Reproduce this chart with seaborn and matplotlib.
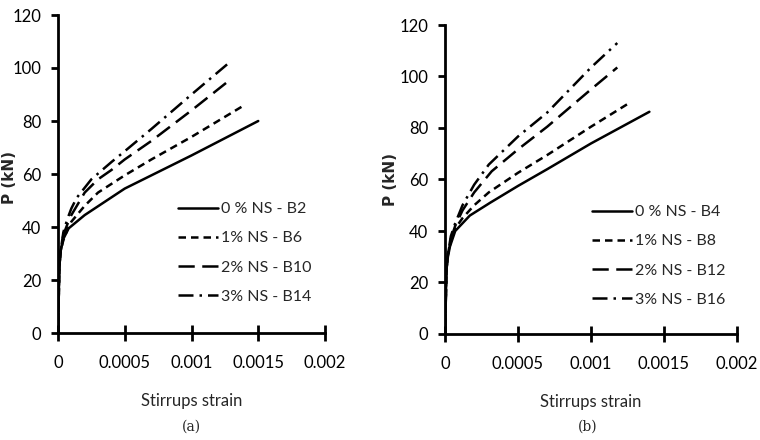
import numpy as np
import pandas as pd
import matplotlib
matplotlib.use("Agg")
import matplotlib.pyplot as plt
import seaborn as sns

# ---- data ----
strain_a_B2 = [0, 0.000005, 0.00001, 0.00002, 0.00004, 0.00008, 0.0002, 0.00035, 0.0005, 0.0007, 0.001, 0.0015]
load_a_B2 = [0, 12, 25, 31, 35.5, 39.5, 44.5, 49.5, 54.5, 59.5, 67, 80]
strain_a_B6 = [0, 0.000005, 0.00001, 0.00002, 0.00004, 0.00007, 0.0001, 0.0002, 0.0003, 0.0005, 0.0007, 0.001, 0.00138]
load_a_B6 = [0, 12, 25, 31, 35, 39, 42, 48, 53, 59.5, 65.5, 74, 85.5]
strain_a_B10 = [0, 0.000005, 0.00001, 0.00002, 0.00004, 0.00007, 0.0001, 0.0002, 0.0003, 0.0004, 0.0005, 0.0007, 0.001, 0.0013]
load_a_B10 = [0, 12, 25, 31, 37, 41, 44.5, 53, 58, 61.5, 65.5, 72.5, 84, 96]
strain_a_B14 = [0, 0.000005, 0.00001, 0.00002, 0.00004, 0.00007, 0.0001, 0.00014, 0.00025, 0.0004, 0.0005, 0.0007, 0.001, 0.00127]
load_a_B14 = [0, 12, 25, 31, 38, 43, 47, 51, 58, 64.5, 68.6, 77, 90, 101.5]

strain_b_B4 = [0, 0.000005, 0.00001, 0.00002, 0.000034, 0.00007, 0.00017, 0.00031, 0.0005, 0.0007, 0.001, 0.0014]
load_b_B4 = [0, 12, 25, 30, 34, 40, 46, 51, 57.5, 64, 74, 86.3]
strain_b_B8 = [0, 0.000005, 0.00001, 0.00002, 0.00004, 0.00007, 0.00012, 0.0002, 0.0003, 0.0005, 0.0007, 0.001, 0.00127]
load_b_B8 = [0, 12, 25, 31, 36, 41, 45, 50, 55, 62.6, 69.5, 80.5, 90]
strain_b_B12 = [0, 0.000005, 0.00001, 0.00002, 0.00004, 0.00007, 0.00012, 0.0002, 0.00032, 0.0005, 0.0007, 0.001, 0.00118]
load_b_B12 = [0, 12, 25, 31, 37, 42, 48, 55, 63.2, 71.7, 80.5, 95, 103.5]
strain_b_B16 = [0, 0.000005, 0.00001, 0.00002, 0.00004, 0.00007, 0.00012, 0.0002, 0.0003, 0.0005, 0.0007, 0.001, 0.00118]
load_b_B16 = [0, 12, 25, 31, 38, 43, 50, 58, 65.8, 76.7, 86, 103.5, 113]

labels_a = ["0 % NS - B2", "1% NS - B6", "2% NS - B10", "3% NS - B14"]
labels_b = ["0 % NS - B4", "1% NS - B8", "2% NS - B12", "3% NS - B16"]
x_ticks = [0, 0.0005, 0.001, 0.0015, 0.002]
x_tick_labels = ["0", "0.0005", "0.001", "0.0015", "0.002"]
y_ticks = [0, 20, 40, 60, 80, 100, 120]

sns.set_style("ticks")
plt.rcParams['font.family'] = ['Lato', 'DejaVu Sans']

def build(strains, loads, labels):
    frames = []
    for s, l, lab in zip(strains, loads, labels):
        frames.append(pd.DataFrame({"strain": s, "load": l, "series": lab}))
    return pd.concat(frames, ignore_index=True)

df_a = build([strain_a_B2, strain_a_B6, strain_a_B10, strain_a_B14],
             [load_a_B2, load_a_B6, load_a_B10, load_a_B14], labels_a)
df_b = build([strain_b_B4, strain_b_B8, strain_b_B12, strain_b_B16],
             [load_b_B4, load_b_B8, load_b_B12, load_b_B16], labels_b)

dash_styles = ["", (3.0, 2.0), (6.5, 3.0), (6.0, 2.4, 1.0, 2.4)]

fig = plt.figure(figsize=(7.6, 4.4), dpi=100)
ax_a = fig.add_axes([58/760, 1-333/440, (325-58)/760, (333-15)/440])
ax_b = fig.add_axes([445/760, 1-334/440, (737-445)/760, (334-25)/440])

panels = [(ax_a, df_a, labels_a, (178/760, 1-202/440), "(a)", 191),
          (ax_b, df_b, labels_b, (592/760, 1-205/440), "(b)", 588)]

FS = 12
for ax, df, labs, anchor, cap, capx in panels:
    sns.lineplot(data=df, x="strain", y="load", style="series", style_order=labs,
                 dashes=dict(zip(labs, dash_styles)), color="black", linewidth=1.8,
                 sort=False, estimator=None, ax=ax)
    ax.set_xlim(0, 0.002)
    ax.set_ylim(0, 120)
    ax.set_xticks(x_ticks)
    ax.set_xticklabels(x_tick_labels)
    ax.set_yticks(y_ticks)
    for sp in ["top", "right"]:
        ax.spines[sp].set_visible(False)
    for sp in ["left", "bottom"]:
        ax.spines[sp].set_linewidth(2)
        ax.spines[sp].set_color("black")
    ax.tick_params(axis="x", direction="inout", length=12, width=2, pad=10, labelsize=FS, colors="black")
    ax.tick_params(axis="y", direction="out", length=5, width=2, pad=7, labelsize=FS, colors="black")
    ax.set_xlabel("Stirrups strain", fontsize=FS, labelpad=16)
    ax.set_ylabel("P (kN)", fontsize=11, fontweight="bold", family="DejaVu Sans")
    ax.set_facecolor("white")
    leg = ax.legend(loc="upper left", bbox_to_anchor=anchor, bbox_transform=fig.transFigure,
                    frameon=False, fontsize=11.5, handlelength=2.5, handletextpad=0.2,
                    labelspacing=0.94, borderpad=0, borderaxespad=0)
    for line in leg.get_lines():
        line.set_linewidth(1.8)
    fig.text(capx/760, 1-427/440, cap, ha="center", va="center", fontsize=10,
             family="DejaVu Serif")

ax_a.yaxis.set_label_coords((17-58)/(325-58), (333-177)/(333-15))
ax_b.yaxis.set_label_coords((398-445)/(737-445), (334-180)/(334-25))

fig.savefig("out.png", dpi=100, facecolor="white")
